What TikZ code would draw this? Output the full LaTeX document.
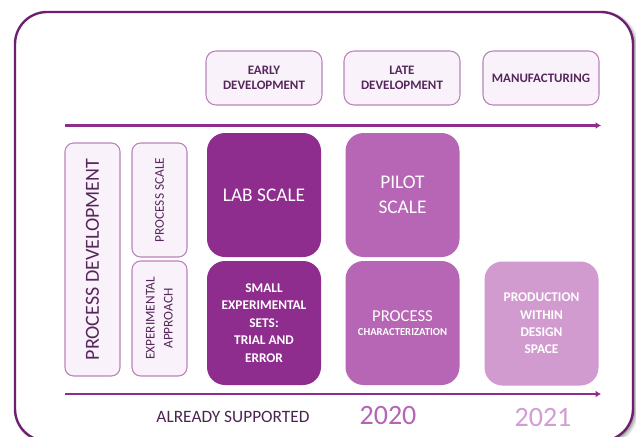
\documentclass[tikz,border=0pt]{standalone}
\usepackage{fontspec}
\setmainfont{Carlito}
\usetikzlibrary{arrows.meta,shadows.blur}
\definecolor{framec}{HTML}{6E1F6F}
\definecolor{linec}{HTML}{8E2D8D}
\definecolor{labc}{HTML}{8E2D8D}
\definecolor{pilotc}{HTML}{B766B5}
\definecolor{prodc}{HTML}{D29BCF}
\definecolor{lightfill}{HTML}{FAF2FB}
\definecolor{lightborder}{HTML}{B983BA}
\definecolor{darktext}{HTML}{55275A}
\definecolor{suptext}{HTML}{4B2550}
\definecolor{y20}{HTML}{B565B5}
\definecolor{y21}{HTML}{D39DD3}
\tikzset{
  header/.style={draw=lightborder, fill=lightfill, line width=0.8pt, rounded corners=7.5pt,
    minimum width=87pt, minimum height=40.5pt, align=center, text=darktext,
    font=\fontsize{9.7}{11.25}\selectfont\bfseries, inner sep=0pt},
  sidebox/.style={draw=lightborder, fill=lightfill, line width=0.8pt, rounded corners=6.5pt,
    align=center, text=darktext, inner sep=0pt, rotate=90},
  bigbox/.style={draw=none, rounded corners=13.5pt, minimum width=85.5pt, minimum height=93pt,
    align=center, text=white, inner sep=0pt},
  timeline/.style={draw=linec, line width=2.2pt, -{Latex[length=4pt,width=5pt]}},
}
\begin{document}
\begin{tikzpicture}[x=0.75pt,y=-0.75pt]
\useasboundingbox (0,0) rectangle (636,436);
\clip (0,0) rectangle (636,436);
% outer frame
\draw[framec, line width=1.8pt, fill=white, rounded corners=24pt,
  blur shadow={shadow xshift=2pt, shadow yshift=-1.5pt, shadow blur radius=2.5pt, shadow opacity=45}]
  (15,12) rectangle (633,441);
% headers
\node[header] (early) at (264,78) {EARLY\\DEVELOPMENT};
\node[header] (late) at (402,78) {LATE\\DEVELOPMENT};
\node[header] (manuf) at (541,78) {MANUFACTURING};
% timelines
\coordinate (t1s) at (65,125.5);
\coordinate (t1e) at (601,125.5);
\draw[timeline] (t1s) -- (t1e);
\coordinate (t2s) at (65,394);
\coordinate (t2e) at (601,394);
\draw[timeline] (t2s) -- (t2e);
% side boxes
\node[sidebox, minimum width=174.75pt, minimum height=41.25pt,
  font=\fontsize{15}{18}\selectfont] (pd) at (92.5,259.5) {PROCESS DEVELOPMENT};
\node[sidebox, minimum width=85.5pt, minimum height=41.25pt,
  font=\fontsize{10}{12}\selectfont] (ps) at (159.5,200) {PROCESS SCALE};
\node[sidebox, minimum width=86.25pt, minimum height=41.25pt,
  font=\fontsize{10}{13.5}\selectfont] (ea) at (159.5,318.5) {EXPERIMENTAL\\APPROACH};
% big boxes
\node[bigbox, fill=labc, font=\fontsize{14.5}{18.75}\selectfont] (lab) at (264,195) {LAB SCALE};
\node[bigbox, fill=labc, font=\fontsize{10}{13.1}\selectfont\bfseries] (small) at (264,323)
  {SMALL\\EXPERIMENTAL\\SETS:\\TRIAL AND\\ERROR};
\node[bigbox, fill=pilotc, font=\fontsize{14.5}{18.75}\selectfont] (pilot) at (402.5,195) {PILOT\\SCALE};
\node[bigbox, fill=pilotc, align=center] (pchar) at (402.5,323)
  {{\fontsize{12.5}{14}\selectfont PROCESS}\\[-1pt]{\fontsize{8}{10}\selectfont\bfseries CHARACTERIZATION}};
\node[bigbox, fill=prodc, font=\fontsize{10}{13}\selectfont\bfseries] (prod) at (541.5,323.5)
  {PRODUCTION\\WITHIN\\DESIGN\\SPACE};
% bottom labels
\node[text=suptext, font=\fontsize{13}{15}\selectfont, inner sep=0pt] (sup) at (233,417) {ALREADY SUPPORTED};
\node[text=y20, font=\fontsize{21}{24}\selectfont, inner sep=0pt] (y2020) at (388,416) {2020};
\node[text=y21, font=\fontsize{21}{24}\selectfont, inner sep=0pt] (y2021) at (543,418) {2021};
\end{tikzpicture}
\end{document}
